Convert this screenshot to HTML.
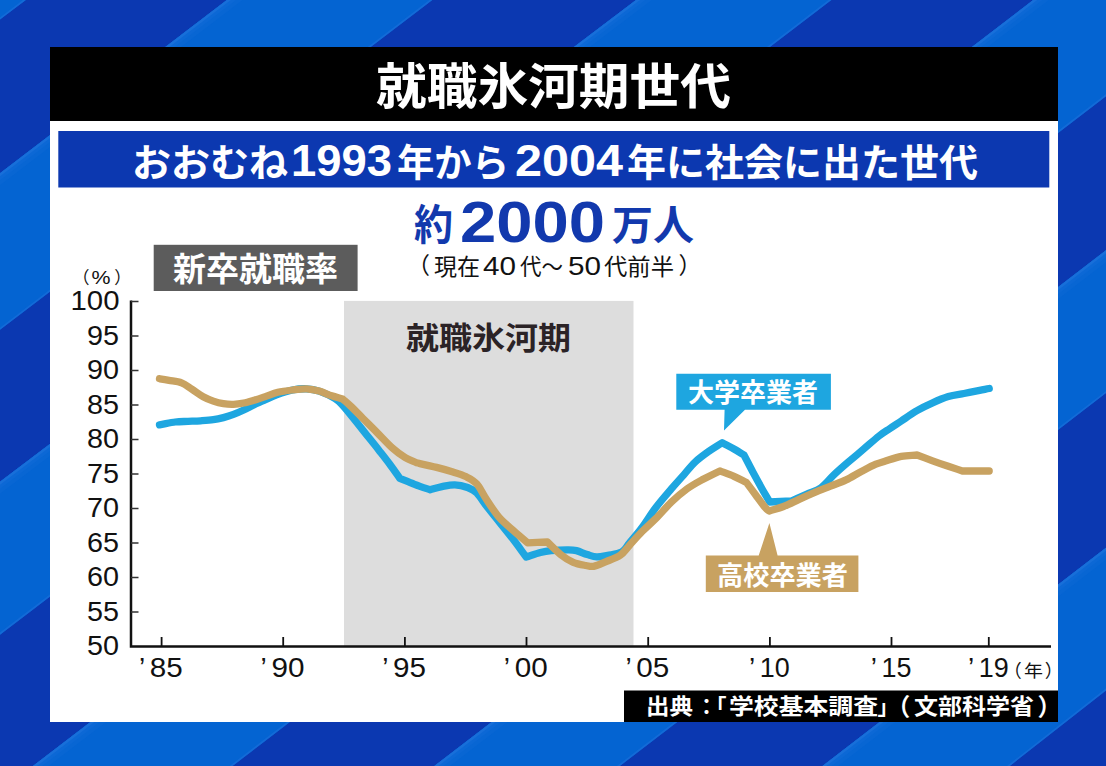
<!DOCTYPE html>
<html lang="ja"><head><meta charset="utf-8"><title>就職氷河期世代</title>
<style>
html,body{margin:0;padding:0;background:#0b38b0}
body{width:1106px;height:766px;overflow:hidden}
svg{display:block;font-family:"Liberation Sans","Noto Sans CJK JP",sans-serif}
</style></head><body>
<svg width="1106" height="766" viewBox="0 0 1106 766" role="img" aria-label="就職氷河期世代 おおむね1993年から2004年に社会に出た世代 約2000万人（現在40代〜50代前半） 新卒就職率 大学卒業者 高校卒業者 出典：「学校基本調査」（文部科学省）">
<rect width="1106" height="766" fill="#0b38b1"/>
<polygon points="-60.0,-300.0 1166.0,-300.0 1166.0,-866.2 -60.0,65.2" fill="#0464d2"/>
<polygon points="-60.0,63.0 1166.0,-868.4 1166.0,-866.2 -60.0,65.2" fill="#136bd7"/>
<polygon points="-60.0,219.1 1166.0,-717.3 1166.0,-559.7 -60.0,375.6" fill="#0464d2"/>
<polygon points="-60.0,219.1 1166.0,-717.3 1166.0,-705.3 -60.0,231.1" fill="#0866d3"/>
<polygon points="-60.0,219.1 1166.0,-717.3 1166.0,-710.3 -60.0,226.1" fill="#0c68d5"/>
<polygon points="-60.0,219.1 1166.0,-717.3 1166.0,-714.3 -60.0,222.1" fill="#186fd9"/>
<polygon points="-60.0,373.4 1166.0,-561.9 1166.0,-559.7 -60.0,375.6" fill="#136bd7"/>
<polygon points="-60.0,527.3 1166.0,-401.5 1166.0,-255.5 -60.0,680.6" fill="#0464d2"/>
<polygon points="-60.0,527.3 1166.0,-401.5 1166.0,-389.5 -60.0,539.3" fill="#0866d3"/>
<polygon points="-60.0,527.3 1166.0,-401.5 1166.0,-394.5 -60.0,534.3" fill="#0c68d5"/>
<polygon points="-60.0,527.3 1166.0,-401.5 1166.0,-398.5 -60.0,530.3" fill="#186fd9"/>
<polygon points="-60.0,678.4 1166.0,-257.7 1166.0,-255.5 -60.0,680.6" fill="#136bd7"/>
<polygon points="-60.0,837.2 1166.0,-101.7 1166.0,50.3 -60.0,990.3" fill="#0464d2"/>
<polygon points="-60.0,837.2 1166.0,-101.7 1166.0,-89.7 -60.0,849.2" fill="#0866d3"/>
<polygon points="-60.0,837.2 1166.0,-101.7 1166.0,-94.7 -60.0,844.2" fill="#0c68d5"/>
<polygon points="-60.0,837.2 1166.0,-101.7 1166.0,-98.7 -60.0,840.2" fill="#186fd9"/>
<polygon points="-60.0,988.1 1166.0,48.1 1166.0,50.3 -60.0,990.3" fill="#136bd7"/>
<polygon points="-60.0,1145.6 1166.0,204.2 1166.0,347.1 -60.0,1287.4" fill="#0464d2"/>
<polygon points="-60.0,1145.6 1166.0,204.2 1166.0,216.2 -60.0,1157.6" fill="#0866d3"/>
<polygon points="-60.0,1145.6 1166.0,204.2 1166.0,211.2 -60.0,1152.6" fill="#0c68d5"/>
<polygon points="-60.0,1145.6 1166.0,204.2 1166.0,207.2 -60.0,1148.6" fill="#186fd9"/>
<polygon points="-60.0,1285.2 1166.0,344.9 1166.0,347.1 -60.0,1287.4" fill="#136bd7"/>
<polygon points="-60.0,1445.5 1166.0,501.5 1166.0,643.4 -60.0,1605.6" fill="#0464d2"/>
<polygon points="-60.0,1445.5 1166.0,501.5 1166.0,513.5 -60.0,1457.5" fill="#0866d3"/>
<polygon points="-60.0,1445.5 1166.0,501.5 1166.0,508.5 -60.0,1452.5" fill="#0c68d5"/>
<polygon points="-60.0,1445.5 1166.0,501.5 1166.0,504.5 -60.0,1448.5" fill="#186fd9"/>
<polygon points="-60.0,1603.4 1166.0,641.2 1166.0,643.4 -60.0,1605.6" fill="#136bd7"/>
<rect x="50" y="47" width="1008" height="675" fill="#fff"/>
<rect x="50" y="47" width="1008" height="74" fill="#000"/>
<rect x="58.3" y="131" width="991" height="56.5" fill="#0c38b0"/>
<rect x="153.7" y="244.8" width="203.9" height="46.2" fill="#5c5c5c"/>
<rect x="344" y="300.9" width="289.5" height="345.2" fill="#dddddd"/>
<path d="M131 300.5V646.5H1051" fill="none" stroke="#111" stroke-width="2.5" stroke-linejoin="miter"/>
<path d="M131 612.0h7.5M131 577.5h7.5M131 543.0h7.5M131 508.5h7.5M131 474.0h7.5M131 439.5h7.5M131 405.0h7.5M131 370.5h7.5M131 336.0h7.5M131 301.5h7.5" fill="none" stroke="#333" stroke-width="1.4"/>
<path d="M161.6 646.5v-9.5M283.2 646.5v-9.5M404.9 646.5v-9.5M526.5 646.5v-9.5M648.2 646.5v-9.5M769.9 646.5v-9.5M891.5 646.5v-9.5M988.8 646.5v-9.5" fill="none" stroke="#111" stroke-width="1.8"/>
<path d="M159.5 424.8C164.8 423.9 170.6 422.6 175.3 422.0C180.1 421.4 183.8 421.6 188.0 421.4C192.2 421.2 196.4 421.1 200.6 420.8C204.8 420.5 209.5 420.2 213.3 419.7C217.1 419.2 220.0 418.5 223.4 417.6C226.8 416.7 230.1 415.7 233.5 414.4C236.9 413.1 240.3 411.6 243.7 410.0C247.1 408.4 250.4 406.5 253.8 404.9C257.2 403.3 260.1 402.2 263.9 400.5C267.7 398.8 271.8 396.6 276.6 394.8C281.4 393.1 287.5 391.0 292.5 390.0C297.5 389.0 302.2 388.6 306.6 388.8C311.0 389.0 314.4 389.5 319.1 391.1C323.8 392.7 330.9 396.1 334.8 398.5C338.7 400.9 339.5 401.9 342.6 405.2C345.7 408.5 349.7 413.7 353.6 418.5C357.5 423.3 361.9 429.0 366.1 434.2C370.3 439.4 374.8 444.9 378.7 449.9C382.6 454.9 386.1 459.3 389.6 464.0C393.1 468.7 396.4 473.5 399.8 478.3C404.7 480.3 409.5 482.4 414.6 484.3C419.7 486.2 425.0 488.0 430.2 489.8C434.1 488.7 437.9 487.4 442.0 486.6C446.1 485.8 450.5 484.7 454.8 484.8C459.1 484.9 463.9 486.1 467.6 487.5C471.3 488.9 473.5 489.6 476.8 493.0C480.1 496.4 483.4 502.1 487.7 507.6C492.0 513.1 498.1 520.6 502.4 525.9C506.7 531.2 509.3 534.4 513.3 539.6C517.3 544.8 521.9 551.2 526.2 557.0C530.9 555.5 536.2 553.6 540.4 552.5C544.6 551.4 546.9 551.0 551.3 550.6C555.7 550.2 562.8 549.9 567.0 549.9C571.2 549.9 573.0 549.8 576.4 550.6C579.8 551.4 583.9 553.6 587.3 554.6C590.7 555.6 593.3 556.8 596.7 556.9C600.1 557.0 603.5 556.1 607.7 555.3C611.9 554.5 618.1 554.1 621.8 552.0C625.4 549.9 626.2 546.9 629.6 542.8C633.0 538.7 637.8 533.4 642.1 527.5C646.5 521.6 650.8 514.1 655.7 507.7C660.6 501.3 666.6 494.4 671.3 488.9C676.0 483.4 679.9 479.2 683.8 474.8C687.7 470.4 690.6 466.2 694.8 462.3C699.0 458.4 704.3 454.6 708.9 451.3C713.5 448.0 717.8 445.6 722.2 442.7C726.1 444.8 730.4 446.9 734.0 449.0C737.6 451.1 740.7 453.1 744.1 455.2C747.0 460.7 749.7 466.1 752.7 471.7C755.7 477.3 759.3 483.8 762.1 488.9C764.9 493.9 767.2 497.6 769.7 502.0C776.9 501.7 784.1 501.3 791.3 501.0C796.5 498.7 802.0 496.2 807.0 494.0C812.0 491.8 816.7 490.8 821.1 487.7C825.5 484.6 829.2 479.4 833.6 475.2C838.0 471.0 842.7 466.9 847.7 462.6C852.7 458.3 858.2 453.7 863.4 449.3C868.6 444.9 874.6 439.5 879.0 436.0C883.4 432.5 886.3 431.0 890.0 428.5C893.7 426.0 896.8 424.0 901.3 421.0C905.8 418.0 911.8 413.7 917.0 410.7C922.2 407.7 927.4 405.2 932.6 402.9C937.8 400.5 943.1 398.2 948.3 396.6C953.5 395.0 958.8 394.5 964.0 393.5C969.2 392.5 975.4 391.2 979.6 390.4C983.8 389.6 986.0 389.1 989.2 388.5" fill="none" stroke="#1ea6e0" stroke-width="7.3" stroke-linejoin="round" stroke-linecap="round"/>
<path d="M159.5 378.7C162.7 379.2 165.3 379.6 169.0 380.3C172.7 381.0 177.8 381.3 181.6 382.8C185.4 384.3 188.2 386.8 191.8 389.1C195.4 391.4 199.6 394.7 203.2 396.7C206.8 398.7 209.9 399.9 213.3 401.1C216.7 402.3 220.0 403.2 223.4 403.7C226.8 404.2 230.1 404.4 233.5 404.3C236.9 404.2 240.1 403.7 243.7 403.0C247.3 402.3 251.3 401.0 255.1 399.9C258.9 398.8 262.7 397.4 266.5 396.1C270.3 394.8 273.5 393.3 277.8 392.3C282.1 391.3 287.7 390.6 292.5 390.0C297.3 389.4 302.2 388.6 306.6 388.8C311.0 389.0 314.9 389.9 319.1 391.1C323.3 392.3 327.8 394.5 331.7 395.8C335.6 397.1 339.0 397.9 342.6 399.0C345.2 401.3 347.1 402.8 350.5 406.0C353.9 409.2 358.6 414.1 363.0 418.5C367.4 422.9 372.2 427.6 377.1 432.6C382.1 437.6 388.0 444.1 392.7 448.3C397.4 452.5 401.3 455.3 405.3 457.7C409.3 460.1 412.8 461.1 416.5 462.8C423.2 464.3 430.5 465.9 436.6 467.4C442.7 468.9 448.1 470.5 453.0 472.0C457.9 473.5 461.8 474.6 465.8 476.6C469.8 478.6 473.5 480.2 476.8 483.9C480.1 487.5 482.2 493.0 485.9 498.5C489.5 504.0 494.1 511.5 498.7 516.8C503.3 522.1 508.5 526.2 513.3 530.5C518.1 534.8 522.8 538.7 527.5 542.8C534.1 542.5 540.8 542.3 547.4 542.0C551.8 546.2 556.4 551.2 560.7 554.6C565.0 558.0 569.0 560.6 573.2 562.4C577.4 564.2 582.4 564.9 585.8 565.5C589.2 566.1 590.2 566.9 593.6 566.3C597.0 565.6 601.7 563.4 606.1 561.6C610.5 559.8 616.3 558.0 620.2 555.3C624.1 552.6 626.0 549.2 629.6 545.2C633.2 541.2 637.8 535.9 642.1 531.5C646.5 527.1 650.8 523.6 655.7 518.7C660.6 513.8 666.1 507.2 671.3 502.2C676.5 497.2 681.8 492.7 687.0 488.9C692.2 485.1 697.1 482.5 702.6 479.5C708.1 476.5 714.1 473.8 719.9 470.9C724.6 472.7 729.6 474.4 734.0 476.4C738.4 478.3 742.3 480.5 746.5 482.6C749.6 486.8 752.8 491.0 755.9 495.2C759.0 499.4 763.1 505.1 765.3 507.7C767.5 510.3 768.0 509.9 769.3 511.0C774.0 509.5 778.5 508.4 783.5 506.5C788.5 504.6 793.9 501.8 799.1 499.4C804.3 497.0 809.6 494.6 814.8 492.4C820.0 490.2 825.3 488.2 830.5 486.1C835.7 484.0 840.9 482.4 846.1 479.9C851.3 477.4 856.8 473.8 861.8 471.2C866.8 468.6 871.9 465.9 875.9 464.2C879.9 462.5 881.3 462.3 885.5 461.0C889.7 459.7 896.0 457.3 901.3 456.3C906.5 455.3 911.8 455.4 917.0 455.0C922.2 456.9 927.4 458.9 932.6 460.8C937.8 462.7 943.3 464.6 948.3 466.3C953.3 468.0 957.7 469.4 962.4 471.0C971.3 471.0 980.3 471.0 989.2 471.0" fill="none" stroke="#c8a261" stroke-width="7.3" stroke-linejoin="round" stroke-linecap="round"/>
<path d="M676.3 373.7H830.9V409.8H745L724 430.4L724.6 409.8H676.3Z" fill="#1ea6e0"/>
<path d="M705.8 555.5H758.7L769.4 523L777.6 555.5H858.4V592.1H705.8Z" fill="#c8a261"/>
<rect x="624" y="690.5" width="434" height="31.5" fill="#000"/>
<g style="font-family:'Liberation Sans','Noto Sans CJK JP',sans-serif">
<text x="376" y="103.5" font-size="49" font-weight="bold" fill="#fff" textLength="355" lengthAdjust="spacingAndGlyphs">就職氷河期世代</text>
<text x="132" y="175.5" font-size="38" font-weight="bold" fill="#fff" textLength="156" lengthAdjust="spacingAndGlyphs">おおむね</text>
<text x="291" y="175.7" font-size="45" font-weight="bold" fill="#fff" textLength="101" lengthAdjust="spacingAndGlyphs">1993</text>
<text x="397" y="175.5" font-size="38" font-weight="bold" fill="#fff" textLength="112" lengthAdjust="spacingAndGlyphs">年から</text>
<text x="515" y="175.7" font-size="45" font-weight="bold" fill="#fff" textLength="108" lengthAdjust="spacingAndGlyphs">2004</text>
<text x="627" y="175.5" font-size="38" font-weight="bold" fill="#fff" textLength="351" lengthAdjust="spacingAndGlyphs">年に社会に出た世代</text>
<text x="414" y="240" font-size="42" font-weight="bold" fill="#1239ad" textLength="39" lengthAdjust="spacingAndGlyphs">約</text>
<text x="460" y="241.6" font-size="57" font-weight="bold" fill="#1239ad" textLength="145" lengthAdjust="spacingAndGlyphs">2000</text>
<text x="612" y="239.5" font-size="41" font-weight="bold" fill="#1239ad" textLength="82" lengthAdjust="spacingAndGlyphs">万人</text>
<text x="430" y="274" font-size="23" fill="#111" text-anchor="end">（</text>
<text x="434" y="274.8" font-size="23" fill="#111" textLength="46" lengthAdjust="spacingAndGlyphs">現在</text>
<text x="483" y="274.6" font-size="25" fill="#111" textLength="33" lengthAdjust="spacingAndGlyphs">40</text>
<text x="520" y="274.8" font-size="23" fill="#111" textLength="43" lengthAdjust="spacingAndGlyphs">代〜</text>
<text x="568" y="274.6" font-size="25" fill="#111" textLength="33" lengthAdjust="spacingAndGlyphs">50</text>
<text x="604" y="274.6" font-size="23" fill="#111" textLength="70" lengthAdjust="spacingAndGlyphs">代前半</text>
<text x="678.5" y="274" font-size="23" fill="#111">）</text>
<text x="173" y="280.6" font-size="33" font-weight="bold" fill="#fff" textLength="165" lengthAdjust="spacingAndGlyphs">新卒就職率</text>
<text x="406" y="348.5" font-size="31" font-weight="bold" fill="#2b2326" textLength="165" lengthAdjust="spacingAndGlyphs">就職氷河期</text>
<text x="87" y="655" font-size="27" fill="#111" textLength="32" lengthAdjust="spacingAndGlyphs">50</text>
<text x="87" y="620.5" font-size="27" fill="#111" textLength="32" lengthAdjust="spacingAndGlyphs">55</text>
<text x="87" y="586" font-size="27" fill="#111" textLength="32" lengthAdjust="spacingAndGlyphs">60</text>
<text x="87" y="551.5" font-size="27" fill="#111" textLength="32" lengthAdjust="spacingAndGlyphs">65</text>
<text x="87" y="517" font-size="27" fill="#111" textLength="32" lengthAdjust="spacingAndGlyphs">70</text>
<text x="87" y="482.5" font-size="27" fill="#111" textLength="32" lengthAdjust="spacingAndGlyphs">75</text>
<text x="87" y="448" font-size="27" fill="#111" textLength="32" lengthAdjust="spacingAndGlyphs">80</text>
<text x="87" y="413.5" font-size="27" fill="#111" textLength="32" lengthAdjust="spacingAndGlyphs">85</text>
<text x="87" y="379" font-size="27" fill="#111" textLength="32" lengthAdjust="spacingAndGlyphs">90</text>
<text x="87" y="344.5" font-size="27" fill="#111" textLength="32" lengthAdjust="spacingAndGlyphs">95</text>
<text x="70.5" y="310" font-size="27" fill="#111" textLength="49" lengthAdjust="spacingAndGlyphs">100</text>
<text x="89.5" y="283.5" font-size="17" fill="#111" text-anchor="end">（</text>
<text x="91.5" y="284.4" font-size="19" fill="#111" textLength="19" lengthAdjust="spacingAndGlyphs">%</text>
<text x="114.3" y="283.5" font-size="17" fill="#111">）</text>
<text x="138.9" y="676.7" font-size="28" fill="#111">’</text>
<text x="149.8" y="676.8" font-size="27" fill="#111" textLength="33" lengthAdjust="spacingAndGlyphs">85</text>
<text x="260.5" y="676.7" font-size="28" fill="#111">’</text>
<text x="271.4" y="676.8" font-size="27" fill="#111" textLength="33" lengthAdjust="spacingAndGlyphs">90</text>
<text x="382.2" y="676.7" font-size="28" fill="#111">’</text>
<text x="393" y="676.8" font-size="27" fill="#111" textLength="33" lengthAdjust="spacingAndGlyphs">95</text>
<text x="503.8" y="676.7" font-size="28" fill="#111">’</text>
<text x="514.7" y="676.8" font-size="27" fill="#111" textLength="33" lengthAdjust="spacingAndGlyphs">00</text>
<text x="625.5" y="676.7" font-size="28" fill="#111">’</text>
<text x="636.3" y="676.8" font-size="27" fill="#111" textLength="33" lengthAdjust="spacingAndGlyphs">05</text>
<text x="749.1" y="676.7" font-size="28" fill="#111">’</text>
<text x="759.8" y="676.8" font-size="27" fill="#111" textLength="30" lengthAdjust="spacingAndGlyphs">10</text>
<text x="870.7" y="676.7" font-size="28" fill="#111">’</text>
<text x="881.4" y="676.8" font-size="27" fill="#111" textLength="30" lengthAdjust="spacingAndGlyphs">15</text>
<text x="968" y="676.7" font-size="28" fill="#111">’</text>
<text x="978.8" y="676.8" font-size="27" fill="#111" textLength="30" lengthAdjust="spacingAndGlyphs">19</text>
<text x="1021.8" y="676.5" font-size="18" fill="#111" text-anchor="end">（</text>
<text x="1024" y="677" font-size="17" fill="#111" textLength="19" lengthAdjust="spacingAndGlyphs">年</text>
<text x="1044.8" y="676.5" font-size="18" fill="#111">）</text>
<text x="688" y="402" font-size="26" font-weight="bold" fill="#fff" textLength="130" lengthAdjust="spacingAndGlyphs">大学卒業者</text>
<text x="717" y="584.5" font-size="26" font-weight="bold" fill="#fff" textLength="131" lengthAdjust="spacingAndGlyphs">高校卒業者</text>
<text x="646" y="714.2" font-size="21.5" font-weight="bold" fill="#fff" textLength="47" lengthAdjust="spacingAndGlyphs">出典</text>
<text x="706.4" y="714.2" font-size="21" font-weight="bold" fill="#fff" text-anchor="middle">：</text>
<text x="726.5" y="714.2" font-size="21" font-weight="bold" fill="#fff" text-anchor="end">「</text>
<text x="729" y="714.2" font-size="22" font-weight="bold" fill="#fff" textLength="149" lengthAdjust="spacingAndGlyphs">学校基本調査</text>
<text x="877.5" y="714.2" font-size="21" font-weight="bold" fill="#fff">」</text>
<text x="910.3" y="714.5" font-size="24" font-weight="bold" fill="#fff" text-anchor="end">（</text>
<text x="914" y="714.2" font-size="22" font-weight="bold" fill="#fff" textLength="120" lengthAdjust="spacingAndGlyphs">文部科学省</text>
<text x="1037.6" y="714.5" font-size="24" font-weight="bold" fill="#fff">）</text>
</g>
</svg>
</body></html>
